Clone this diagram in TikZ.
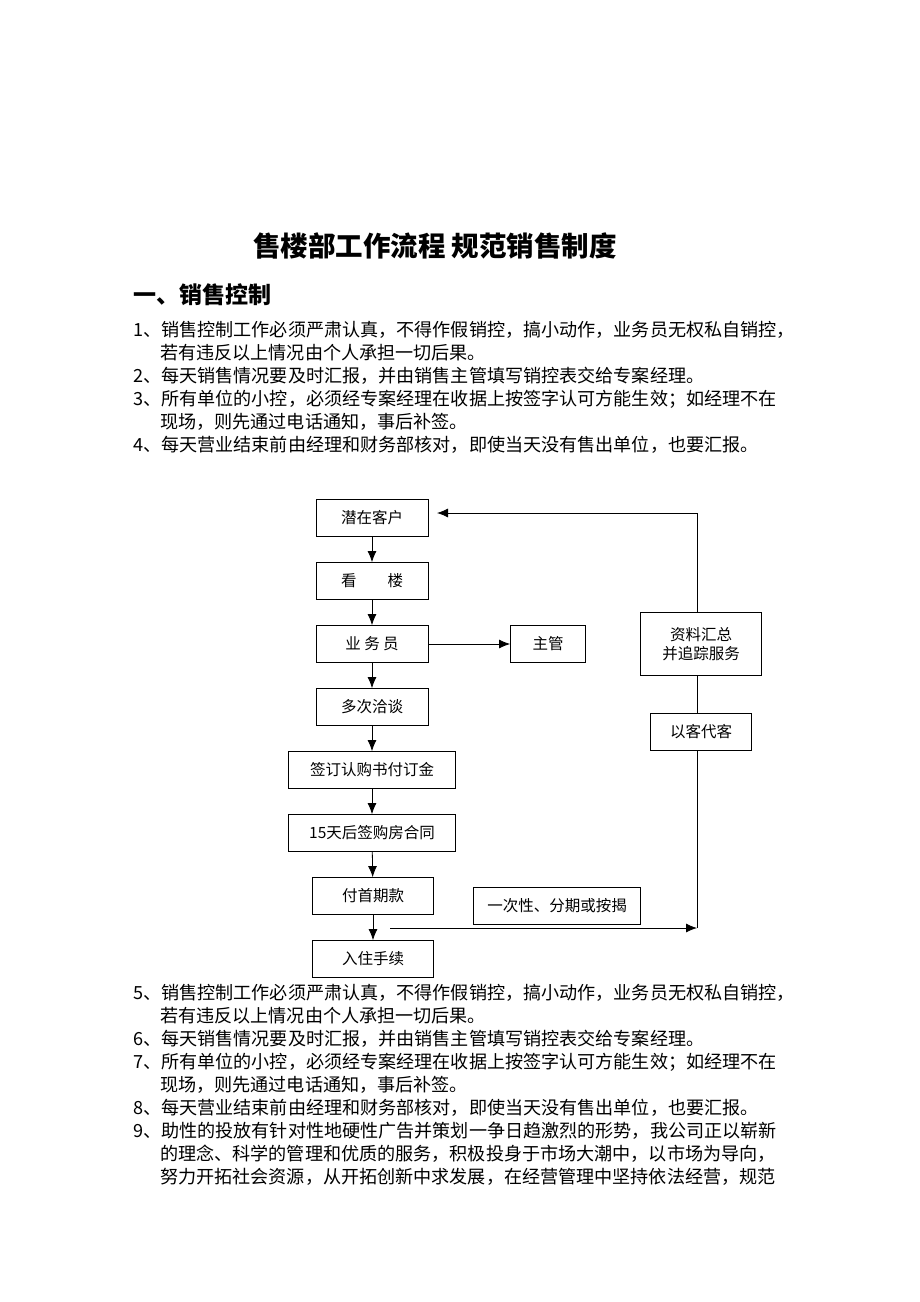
\documentclass[tikz,border=0pt]{standalone}
\usepackage{fontspec}
\setmainfont{Noto Sans CJK SC}
\usetikzlibrary{arrows.meta}
\tikzset{
  box/.style={draw, thick, minimum height=37pt, inner sep=0pt, font=\fontsize{15.5}{15.5}\selectfont},
  line/.style={anchor=west, inner sep=0pt, font=\fontsize{18.1}{18.1}\selectfont},
  arr/.style={thick, -{Latex[length=11pt,width=9pt]}}
}
\begin{document}
\begin{tikzpicture}[x=1pt,y=-1pt]
    \useasboundingbox (0,0) rectangle (920,1302);
    % 标题
    \node[font=\fontsize{27.5}{27.5}\selectfont\bfseries] (title) at (435,246) {售楼部工作流程\ 规范销售制度};
    \node[anchor=west, inner sep=0pt, font=\fontsize{23}{23}\selectfont\bfseries] (head) at (133,295) {一、销售控制};
    % 正文
    \node[line] (l1) at (133,330) {1、销售控制工作必须严肃认真，不得作假销控，搞小动作，业务员无权私自销控，};
    \node[line] (l2) at (160,353) {若有违反以上情况由个人承担一切后果。};
    \node[line] (l3) at (133,376) {2、每天销售情况要及时汇报，并由销售主管填写销控表交给专案经理。};
    \node[line] (l4) at (133,399) {3、所有单位的小控，必须经专案经理在收据上按签字认可方能生效；如经理不在};
    \node[line] (l5) at (160,422) {现场，则先通过电话通知，事后补签。};
    \node[line] (l6) at (133,445) {4、每天营业结束前由经理和财务部核对，即使当天没有售出单位，也要汇报。};

    % 流程框
    \node[box, minimum width=112pt] (qz) at (372,518) {潜在客户};
    \node[box, minimum width=112pt] (kl) at (372,581) {看\qquad 楼};
    \node[box, minimum width=112pt] (yw) at (372,644) {业\ 务\ 员};
    \node[box, minimum width=75pt] (zg) at (548,644) {主管};
    \node[box, minimum width=112pt] (dc) at (372,707) {多次洽谈};
    \node[box, minimum width=167pt] (qd) at (372,770) {签订认购书付订金};
    \node[box, minimum width=167pt] (ht) at (372,833) {15天后签购房合同};
    \node[box, minimum width=121pt] (sq) at (373,896) {付首期款};
    \node[box, minimum width=121pt] (rz) at (373,959) {入住手续};
    \node[box, minimum width=167pt] (fq) at (557,906) {一次性、分期或按揭};
    \node[box, minimum width=121pt, minimum height=63pt, align=center, fill=white] (zl) at (701,644) {资料汇总\\[4pt]并追踪服务};
    \node[box, minimum width=101pt, fill=white] (yk) at (701,732) {以客代客};
    \coordinate (c1) at (390,928);
    \coordinate (c2) at (697,928);
    \coordinate (c3) at (697,513);
    \coordinate (c4) at (437,513);

    % 连线
    \draw[arr] (qz) -- (kl);
    \draw[arr] (kl) -- (yw);
    \draw[arr] (yw) -- (zg);
    \draw[arr] (yw) -- (dc);
    \draw[arr] (dc) -- (qd);
    \draw[arr] (qd) -- (ht);
    \draw[arr] (ht) -- (sq);
    \draw[arr] (sq) -- (rz);
    \draw[arr] (c1) -- (c2);
    \draw[arr] (c2) -- (c3) -- (c4);
    \node[box, minimum width=121pt, minimum height=63pt, align=center, fill=white] at (zl) {资料汇总\\[4pt]并追踪服务};
    \node[box, minimum width=101pt, fill=white] at (yk) {以客代客};

    % 正文（续）
    \node[line] (m1) at (133,993) {5、销售控制工作必须严肃认真，不得作假销控，搞小动作，业务员无权私自销控，};
    \node[line] (m2) at (160,1016) {若有违反以上情况由个人承担一切后果。};
    \node[line] (m3) at (133,1039) {6、每天销售情况要及时汇报，并由销售主管填写销控表交给专案经理。};
    \node[line] (m4) at (133,1062) {7、所有单位的小控，必须经专案经理在收据上按签字认可方能生效；如经理不在};
    \node[line] (m5) at (160,1085) {现场，则先通过电话通知，事后补签。};
    \node[line] (m6) at (133,1108) {8、每天营业结束前由经理和财务部核对，即使当天没有售出单位，也要汇报。};
    \node[line] (m7) at (133,1131) {9、助性的投放有针对性地硬性广告并策划一争日趋激烈的形势，我公司正以崭新};
    \node[line] (m8) at (160,1154) {的理念、科学的管理和优质的服务，积极投身于市场大潮中，以市场为导向，};
    \node[line] (m9) at (160,1177) {努力开拓社会资源，从开拓创新中求发展，在经营管理中坚持依法经营，规范};
\end{tikzpicture}
\end{document}
